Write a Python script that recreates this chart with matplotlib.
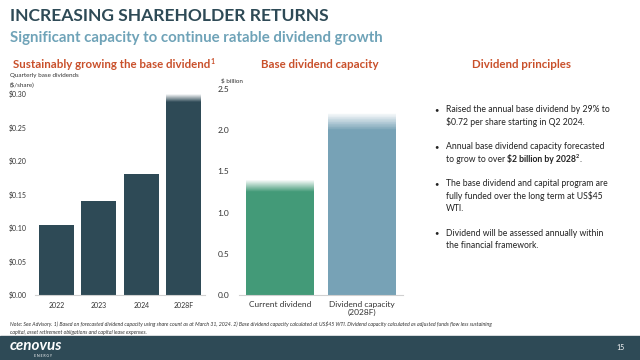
import matplotlib
matplotlib.use("Agg")
import matplotlib.pyplot as plt
import numpy as np

plt.rcParams['font.family'] = ['Lato', 'DejaVu Sans']

# data
years = ["2022", "2023", "2024", "2028F"]
dividends = [0.105, 0.14, 0.18, 0.288]
dividend_fade = [0, 0, 0, 0.012]

cap_labels = ["Current dividend", "Dividend capacity\n(2028F)"]
capacity = [1.25, 2.0]
capacity_fade = [0.15, 0.21]

left_ticks = [0.0, 0.05, 0.10, 0.15, 0.20, 0.25, 0.30]
right_ticks = [0.0, 0.5, 1.0, 1.5, 2.0, 2.5]

bullets = [
    ["Raised the annual base dividend by 29% to", "$0.72 per share starting in Q2 2024."],
    ["Annual base dividend capacity forecasted", "to grow to over "],
    ["The base dividend and capital program are", "fully funded over the long term at US$45", "WTI."],
    ["Dividend will be assessed annually within", "the financial framework."],
]

dark = "#2e4a56"
green = "#439a78"
steel = "#77a2b6"
orange = "#c9502b"
sub = "#6fa3b8"

W, H = 640, 360
fig = plt.figure(figsize=(6.4, 3.6), dpi=100)


def fx(px):
    return px / W


def fy(py):
    return 1 - py / H


def faded_bars(ax, xs, vals, fades, color, width):
    ax.bar(xs, vals, width=width, color=color, linewidth=0)
    n = 24
    for x, v, f in zip(xs, vals, fades):
        if f <= 0:
            continue
        step = f / n
        for k in range(n):
            a = 1 - (k + 0.5) / n
            ax.bar(x, step, bottom=v + k * step, width=width, color=color,
                   alpha=a, linewidth=0, antialiased=False)


# left chart
ax1 = fig.add_axes([fx(35), fy(295), fx(170), fy(94) - fy(295)])
faded_bars(ax1, np.arange(len(years)), dividends, dividend_fade, dark, 0.82)
ax1.set_xlim(-0.5, len(years) - 0.5)
ax1.set_ylim(0, 0.30)
ax1.set_yticks(left_ticks)
ax1.set_yticklabels(["$%.2f" % t for t in left_ticks])
ax1.set_xticks(np.arange(len(years)))
ax1.set_xticklabels(years)
for s in ["left", "top", "right"]:
    ax1.spines[s].set_visible(False)
ax1.spines["bottom"].set_color("#d0d0d0")
ax1.tick_params(axis="both", length=0, labelsize=5, colors="#333333")
ax1.tick_params(axis="y", pad=6)
ax1.tick_params(axis="x", pad=5)

# right chart
ax2 = fig.add_axes([fx(239), fy(295), fx(164), fy(89) - fy(295)])
faded_bars(ax2, [0], capacity[:1], capacity_fade[:1], green, 0.84)
faded_bars(ax2, [1], capacity[1:], capacity_fade[1:], steel, 0.84)
ax2.set_xlim(-0.5, 1.5)
ax2.set_ylim(0, 2.5)
ax2.set_yticks(right_ticks)
ax2.set_yticklabels(["%.1f" % t for t in right_ticks])
ax2.set_xticks([0, 1])
ax2.set_xticklabels(cap_labels)
for s in ["left", "top", "right"]:
    ax2.spines[s].set_visible(False)
ax2.spines["bottom"].set_color("#d0d0d0")
ax2.tick_params(axis="both", length=0, colors="#333333")
ax2.tick_params(axis="y", labelsize=6, pad=7)
ax2.tick_params(axis="x", labelsize=6, pad=4)

# titles
fig.text(fx(10), fy(16), "INCREASING SHAREHOLDER RETURNS", fontsize=12.6,
         fontweight="bold", color=dark, va="center")
fig.text(fx(10), fy(38), "Significant capacity to continue ratable dividend growth",
         fontsize=10.8, fontweight="bold", color=sub, va="center")

h1 = fig.text(fx(13), fy(64), "Sustainably growing the base dividend", fontsize=8.3,
              fontweight="bold", color=orange, va="center")
fig.text(fx(320), fy(64), "Base dividend capacity", fontsize=8.3,
         fontweight="bold", color=orange, ha="center", va="center")
fig.text(fx(522), fy(64), "Dividend principles", fontsize=8.3,
         fontweight="bold", color=orange, ha="center", va="center")

fig.text(fx(10), fy(80), "Quarterly base dividends\n($/share)", fontsize=4.5,
         color="#333333", va="center", linespacing=1.5)
fig.text(fx(221), fy(81), "$ billion", fontsize=4.5, color="#333333", va="center")

# bullets
y = 110
bold_anchor = None
for i, lines in enumerate(bullets):
    fig.text(fx(434), fy(y), "\u2022", fontsize=5.5, color="#222222", va="center")
    for j, ln in enumerate(lines):
        t = fig.text(fx(446), fy(y), ln, fontsize=6.2, color="#222222", va="center")
        if i == 1 and j == 1:
            bold_anchor = t
        y += 12.3
    y += 12.3

fig.canvas.draw()
e = h1.get_window_extent()
fig.text(e.x1 / W + 0.001, fy(61), "1", fontsize=5, fontweight="bold",
         color=orange, va="center")

bb = bold_anchor.get_window_extent()
by = bold_anchor.get_position()[1]
bt = fig.text(bb.x1 / W, by, "$2 billion by 2028",
              fontsize=6.2, fontweight="bold", color="#222222", va="center")
fig.canvas.draw()
bb2 = bt.get_window_extent()
fig.text(bb2.x1 / W, by + 0.007, "2", fontsize=4,
         fontweight="bold", color="#222222", va="center")
fig.text(bb2.x1 / W + 0.005, by, ".", fontsize=6.2,
         color="#222222", va="center")

# footnote
fig.text(fx(10), fy(324), "Note: See Advisory. 1) Based on forecasted dividend capacity using share count as at March 31, 2024. "
         "2) Base dividend capacity calculated at US$45 WTI. Dividend capacity calculated as adjusted funds flow less sustaining",
         fontsize=3.8, style="italic", color="#333333", va="center")
fig.text(fx(10), fy(332), "capital, asset retirement obligations and capital lease expenses.",
         fontsize=3.8, style="italic", color="#333333", va="center")

# footer band
fig.patches.append(plt.Rectangle((0, 0), 1, fy(336), transform=fig.transFigure,
                                 color=dark, zorder=0))
fig.text(fx(10), fy(346), "cenovus", fontsize=11, fontweight="bold", style="italic",
         color="white", va="center")
fig.text(fx(34), fy(356), "E N E R G Y", fontsize=2.5, color="white", va="center")
fig.text(fx(625), fy(347), "15", fontsize=5, color="white", va="center", ha="right")

fig.savefig("out.png", dpi=100)
